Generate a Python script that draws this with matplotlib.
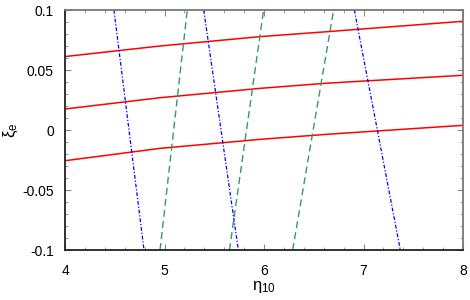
import numpy as np
import matplotlib

matplotlib.use("Agg")
import matplotlib.pyplot as plt
from matplotlib.ticker import MultipleLocator, FixedLocator, FixedFormatter

plt.rcParams["font.family"] = ["Liberation Sans", "DejaVu Sans"]
plt.rcParams["mathtext.fontset"] = "custom"
plt.rcParams["mathtext.rm"] = "Liberation Sans"
plt.rcParams["mathtext.it"] = "Liberation Sans"

# 붉은 실선: 고정 ξ_e 곡선 (η10, ξe)
red_eta = [4.0, 4.955, 5.96, 6.63, 8.0]
red_top = [0.0612, 0.0700, 0.0778, 0.0819, 0.0906]
red_mid = [0.0175, 0.0269, 0.0347, 0.0390, 0.0456]
red_bot = [-0.0256, -0.0153, -0.0078, -0.0036, 0.0039]

# 초록 파선 (ξe = -0.1 -> 0.1)
green_xi = [-0.1, 0.1]
green_eta = [[4.955, 5.229], [5.653, 5.996], [6.288, 6.70]]

# 파란 점쇄선 (ξe = 0.1 -> -0.1)
blue_xi = [0.1, -0.1]
blue_eta = [[4.492, 4.794], [5.394, 5.742], [6.908, 7.37]]

fig = plt.figure(figsize=(4.7, 3.0), dpi=100)
ax = fig.add_axes([65 / 470, 50 / 300, 398 / 470, 240 / 300])

for ys in (red_top, red_mid, red_bot):
    ax.plot(red_eta, ys, color="#ff0000", lw=1.1)
for e in green_eta:
    ax.plot(e, green_xi, color="#33996b", lw=1.0, dashes=(5, 3))
for e in blue_eta:
    ax.plot(e, blue_xi, color="#0000ff", lw=0.9, dashes=(3, 1.5, 1, 1.5))

ax.set_xlim(4, 8)
ax.set_ylim(-0.1, 0.1)
ax.xaxis.set_major_locator(FixedLocator([4, 5, 6, 7, 8]))
ax.xaxis.set_major_formatter(FixedFormatter(["4", "5", "6", "7", "8"]))
ax.xaxis.set_minor_locator(MultipleLocator(0.2))
ax.yaxis.set_major_locator(FixedLocator([-0.1, -0.05, 0, 0.05, 0.1]))
ax.yaxis.set_major_formatter(FixedFormatter(["-0.1", "-0.05", "0", "0.05", "0.1"]))
ax.yaxis.set_minor_locator(MultipleLocator(0.01))

ax.tick_params(which="both", direction="in", top=True, right=True,
               color="#888888", labelsize=10)
ax.tick_params(which="major", length=4, width=0.8)
ax.tick_params(which="minor", length=2.5, width=0.6)
ax.tick_params(axis="x", which="major", pad=10)
ax.tick_params(axis="y", which="major", pad=8)

for s in ("left", "bottom"):
    ax.spines[s].set_color("#222222")
    ax.spines[s].set_linewidth(1.3)
for s in ("top", "right"):
    ax.spines[s].set_color("#777777")
    ax.spines[s].set_linewidth(1.3)

ax.set_xlabel(r"$\eta_{10}$", fontsize=12, labelpad=1)
ax.set_ylabel(r"$\xi_e$", fontsize=12)
ax.yaxis.set_label_coords(-0.112, 0.5)

plt.savefig("out.png", dpi=100)
plt.close()
